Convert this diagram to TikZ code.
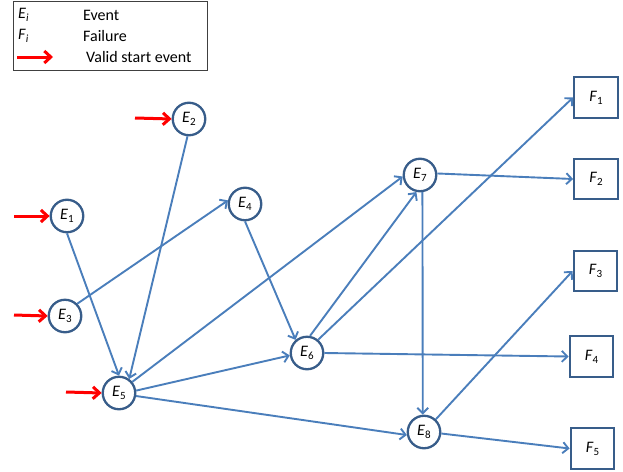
\documentclass[tikz,border=0pt]{standalone}
\usepackage{fontspec}
\setmainfont{Carlito}
\usetikzlibrary{arrows.meta}
\definecolor{edgeblue}{HTML}{4A7EBB}
\definecolor{nodeblue}{HTML}{385D8A}
\definecolor{legendgray}{HTML}{404040}
\newcommand{\lbl}[2]{\textit{#1}\raisebox{-0.4ex}{\fontsize{11}{11}\selectfont #2}}
\newcommand{\lgl}[2]{\textit{#1}\raisebox{-0.4ex}{\fontsize{11}{11}\selectfont\itshape #2}}
\begin{document}
\begin{tikzpicture}[x=1pt,y=-1pt,
  ev/.style={circle,draw=nodeblue,line width=2.3pt,minimum size=32.5pt,inner sep=0pt,fill=white,font=\fontsize{16}{16}\selectfont},
  fl/.style={rectangle,draw=nodeblue,line width=2.3pt,minimum width=43.5pt,minimum height=40.5pt,inner sep=0pt,fill=white,font=\fontsize{16}{16}\selectfont},
  edge/.style={draw=edgeblue,line width=1.9pt,-{Straight Barb[length=5.5pt,width=11pt]}},
  startarr/.style={draw=red,line width=3pt,-{Straight Barb[length=6.5pt,width=12pt]}},
  legtext/.style={anchor=west,inner sep=0pt,font=\fontsize{16}{16}\selectfont},
]
\useasboundingbox (0,0) rectangle (623,471);

% legend
\node[draw=legendgray,line width=0.8pt,minimum width=194pt,minimum height=69pt,inner sep=0pt,anchor=north west] (legend) at (13,1) {};
\node[legtext] (le1) at (18,15) {\lgl{E}{i}};
\node[legtext] (le2) at (83,15) {Event};
\node[legtext] (lf1) at (18,36) {\lgl{F}{i}};
\node[legtext] (lf2) at (83,36) {Failure};
\coordinate (la1) at (17,57);
\coordinate (la2) at (53,57);
\draw[startarr] (la1) -- (la2);
\node[legtext] (lv) at (86,57) {Valid start event};

% events
\node[ev] (E1) at (67,216) {\lbl{E}{1}};
\node[ev] (E2) at (189,119) {\lbl{E}{2}};
\node[ev] (E3) at (65,316) {\lbl{E}{3}};
\node[ev] (E4) at (245,204) {\lbl{E}{4}};
\node[ev] (E5) at (119,393) {\lbl{E}{5}};
\node[ev] (E6) at (307,353) {\lbl{E}{6}};
\node[ev] (E7) at (420,175) {\lbl{E}{7}};
\node[ev] (E8) at (424,432) {\lbl{E}{8}};

% failures
\node[fl] (F1) at (596,97.5) {\lbl{F}{1}};
\node[fl] (F2) at (596,179) {\lbl{F}{2}};
\node[fl] (F3) at (595.5,271) {\lbl{F}{3}};
\node[fl] (F4) at (591.5,356.5) {\lbl{F}{4}};
\node[fl] (F5) at (592.5,448.5) {\lbl{F}{5}};

% start arrows
\coordinate (s1) at (14,216);
\coordinate (s2) at (135,118);
\coordinate (s3) at (14,315);
\coordinate (s5) at (66,392);
\draw[startarr] (s1) -- (E1.west);
\draw[startarr] (s2) -- (E2.west);
\draw[startarr] (s3) -- (E3.west);
\draw[startarr] (s5) -- (E5.west);

% edges
\draw[edge] (E2.265) -- (E5.54);
\draw[edge] (E1.south) -- (E5.north);
\draw[edge] (E3.45) -- (E4.168);
\draw[edge] (E5.40) -- (E7.185);
\draw[edge] (E5.8) -- (E6.188);
\draw[edge] (E5.350) -- (E8.190);
\draw[edge] (E4.270) -- (E6.131);
\draw[edge] (E6.80) -- (E7.258);
\draw[edge] (E6.50) -- (F1.west);
\draw[edge] (E6.east) -- (F4.west);
\draw[edge] (E7.5) -- (F2.west);
\draw[edge] (E7.278) -- (E8.94);
\draw[edge] (E8.47) -- (F3.west);
\draw[edge] (E8.355) -- (F5.west);
\end{tikzpicture}
\end{document}
